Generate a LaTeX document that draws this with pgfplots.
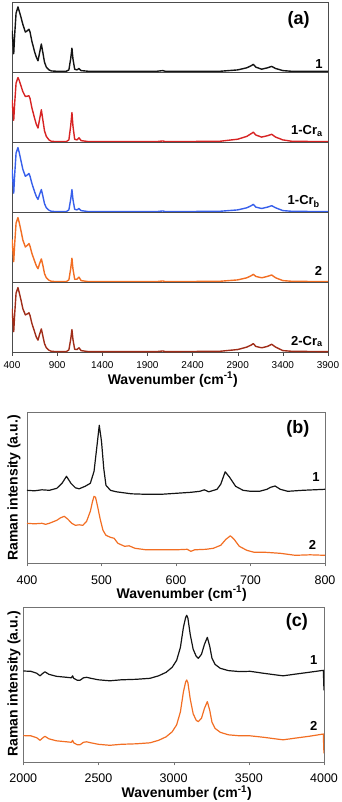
\documentclass[border=0pt]{standalone}
\usepackage{fontspec}
\setmainfont{Liberation Sans}
\usepackage{pgfplots}
\pgfplotsset{compat=1.18}
\definecolor{cblack}{RGB}{20,20,20}
\definecolor{cred}{RGB}{215,35,35}
\definecolor{cblue}{RGB}{55,95,235}
\definecolor{corange}{RGB}{242,110,35}
\definecolor{cbrown}{RGB}{160,45,25}
\tikzset{lab/.style={font=\fontsize{13}{14}\selectfont\bfseries, anchor=base east, inner sep=0pt},
  xl/.style={font=\fontsize{14}{15}\selectfont\bfseries, anchor=base, inner sep=0pt}}
\pgfplotsset{
  sub/.style={scale only axis, width=316pt, height=70pt, xmin=400, xmax=3900, ymin=0, ymax=1,
    ytick=\empty, xtick=\empty, axis line style={black!70}, line width=0.6pt,
    every axis plot/.append style={line width=1.4pt, line join=round}},
  big/.style={scale only axis, axis line style={black!55}, line width=0.6pt, ytick=\empty,
    tick pos=left, tick align=outside, major tick length=3pt, tick style={black!55},
    /pgf/number format/assume math mode=true, /pgf/number format/1000 sep={},
    ticklabel style={font=\fontsize{12.5}{13}\selectfont, inner sep=0pt},
    every axis plot/.append style={line width=1.2pt, line join=round}},
}
\begin{document}
\begin{tikzpicture}[x=1pt,y=1pt]
\useasboundingbox (0,0) rectangle (342,-802);
% ---------------- panel (a) ----------------
\begin{axis}[sub, at={(12pt,-2.7pt)}, anchor=north west]
\addplot[cblack] coordinates {(400,0.60)(410,0.45)(419,0.27)(430,0.55)(445,0.85)(466,0.94)(480,0.88)(500,0.79)(520,0.69)(548,0.58)(570,0.60)(588,0.62)(600,0.58)(620,0.45)(650,0.30)(670,0.22)(688,0.17)(705,0.28)(725,0.41)(740,0.30)(760,0.15)(780,0.08)(810,0.04)(836,0.025)(900,0.02)(1000,0.02)(1030,0.04)(1050,0.20)(1064,0.35)(1075,0.20)(1094,0.05)(1120,0.04)(1142,0.06)(1165,0.03)(1250,0.02)(2000,0.02)(2070,0.03)(2100,0.02)(2700,0.02)(2900,0.04)(3000,0.07)(3050,0.10)(3073,0.12)(3100,0.08)(3165,0.05)(3230,0.07)(3276,0.09)(3320,0.06)(3400,0.03)(3500,0.02)(3900,0.02)};
\node[lab] at (rel axis cs:0.984,0.055) {1};
\node[font=\fontsize{18}{19}\selectfont\bfseries] at (rel axis cs:0.907,0.757) {(a)};
\end{axis}
\begin{axis}[sub, at={(12pt,-72.7pt)}, anchor=north west]
\addplot[cred] coordinates {(400,0.61)(410,0.46)(419,0.32)(430,0.57)(445,0.85)(466,0.93)(480,0.89)(500,0.81)(520,0.73)(548,0.66)(570,0.665)(588,0.67)(600,0.63)(620,0.50)(650,0.35)(670,0.26)(688,0.21)(705,0.33)(725,0.47)(740,0.34)(760,0.17)(780,0.09)(810,0.04)(836,0.02)(900,0.015)(1000,0.015)(1030,0.04)(1050,0.24)(1064,0.43)(1075,0.24)(1094,0.05)(1120,0.04)(1142,0.07)(1165,0.03)(1250,0.015)(2000,0.015)(2070,0.025)(2100,0.015)(2700,0.02)(2900,0.05)(3000,0.09)(3050,0.13)(3073,0.15)(3100,0.11)(3165,0.08)(3230,0.10)(3276,0.12)(3320,0.08)(3400,0.04)(3500,0.02)(3900,0.015)};
\node[lab] at (rel axis cs:0.984,0.11) {1-Cr\textsubscript{a}};
\end{axis}
\begin{axis}[sub, at={(12pt,-142.7pt)}, anchor=north west]
\addplot[cblue] coordinates {(400,0.62)(410,0.45)(419,0.28)(430,0.55)(445,0.85)(466,0.93)(480,0.86)(500,0.74)(520,0.62)(548,0.52)(570,0.54)(588,0.56)(600,0.52)(620,0.42)(650,0.30)(670,0.23)(688,0.19)(705,0.26)(725,0.33)(740,0.25)(760,0.13)(780,0.07)(810,0.035)(836,0.02)(900,0.015)(1000,0.015)(1030,0.04)(1050,0.19)(1064,0.33)(1075,0.19)(1094,0.05)(1120,0.04)(1142,0.06)(1165,0.03)(1250,0.015)(2000,0.015)(2070,0.025)(2100,0.015)(2700,0.02)(2900,0.04)(3000,0.07)(3050,0.10)(3073,0.12)(3100,0.08)(3165,0.06)(3230,0.08)(3276,0.10)(3320,0.07)(3400,0.03)(3500,0.02)(3900,0.015)};
\node[lab] at (rel axis cs:0.975,0.11) {1-Cr\textsubscript{b}};
\end{axis}
\begin{axis}[sub, at={(12pt,-212.7pt)}, anchor=north west]
\addplot[corange] coordinates {(400,0.62)(410,0.46)(419,0.30)(430,0.56)(445,0.85)(466,0.93)(480,0.86)(500,0.74)(520,0.61)(548,0.51)(570,0.535)(588,0.56)(600,0.52)(620,0.42)(650,0.31)(670,0.24)(688,0.20)(705,0.27)(725,0.34)(740,0.26)(760,0.13)(780,0.07)(810,0.035)(836,0.02)(900,0.015)(1000,0.015)(1030,0.04)(1050,0.20)(1064,0.35)(1075,0.20)(1094,0.05)(1120,0.05)(1142,0.08)(1165,0.03)(1250,0.015)(2000,0.015)(2070,0.025)(2100,0.015)(2700,0.02)(2900,0.04)(3000,0.07)(3050,0.10)(3073,0.12)(3100,0.09)(3165,0.07)(3230,0.09)(3276,0.11)(3320,0.07)(3400,0.03)(3500,0.02)(3900,0.015)};
\node[lab] at (rel axis cs:0.982,0.11) {2};
\end{axis}
\begin{axis}[sub, at={(12pt,-282.7pt)}, anchor=north west,
  xtick={400,900,...,3900}, tick pos=left, tick align=outside, major tick length=3pt, tick style={black!70},
  /pgf/number format/assume math mode=true, /pgf/number format/1000 sep={},
  xticklabel style={font=\fontsize{10}{11}\selectfont, anchor=base, inner sep=0pt, yshift=-13.2pt}]
\addplot[cbrown] coordinates {(400,0.63)(410,0.46)(419,0.30)(430,0.56)(445,0.85)(466,0.93)(480,0.86)(500,0.75)(520,0.63)(548,0.54)(570,0.555)(588,0.57)(600,0.53)(620,0.42)(650,0.30)(670,0.22)(688,0.18)(705,0.26)(725,0.34)(740,0.25)(760,0.13)(780,0.07)(810,0.035)(836,0.02)(900,0.015)(1000,0.015)(1030,0.04)(1050,0.19)(1064,0.33)(1075,0.19)(1094,0.05)(1120,0.045)(1142,0.07)(1165,0.03)(1250,0.015)(2000,0.015)(2070,0.025)(2100,0.015)(2700,0.02)(2900,0.045)(3000,0.08)(3050,0.11)(3073,0.13)(3100,0.09)(3165,0.07)(3230,0.09)(3276,0.12)(3320,0.08)(3400,0.03)(3500,0.02)(3900,0.015)};
\node[lab] at (rel axis cs:0.984,0.11) {2-Cr\textsubscript{a}};
\end{axis}
% ---------------- panel (b) ----------------
\begin{axis}[big, at={(27pt,-563.3pt)}, anchor=south west, width=298pt, height=151pt,
  xmin=400, xmax=800, ymin=0, ymax=151, xtick={400,500,...,800},
  xticklabel style={anchor=base, yshift=-17.7pt}]
\addplot[cblack] coordinates {(400,73)(410,72.5)(420,73.5)(430,73)(440,75)(447,80)(453,87)(459,80)(465,75.5)(470,74.5)(478,77)(485,80)(490,92)(494,118)(497,138)(500,122)(503,95)(506,78)(512,73)(520,71.5)(540,69.5)(560,69)(580,69)(600,70)(620,71)(632,72)(638,73.5)(644,71.5)(655,74)(660,79)(666,91.5)(672,86)(680,77)(690,73)(700,72)(712,72)(722,74)(727,76)(733,77.3)(740,74)(750,72)(770,73)(785,73.5)(800,74)};
\addplot[corange] coordinates {(400,40)(410,39.5)(420,40)(425,39)(430,40)(440,43)(445,45.5)(450,47)(455,44)(460,40)(465,38)(470,38.5)(475,38)(480,42)(485,52)(488,62)(490,67)(492,66)(495,56)(498,45)(502,33)(506,28)(512,26)(517,25)(522,20)(531,17)(537,17.5)(545,15)(560,13.5)(580,13.5)(600,13.5)(615,14)(620,12)(625,13.5)(640,14)(650,15)(660,18)(667,24)(673,27.5)(678,24)(685,17)(695,13)(705,11)(720,11)(740,10)(760,8)(780,8.5)(800,8)};
\node[font=\fontsize{13}{14}\selectfont\bfseries, anchor=base] at (rel axis cs:0.97,0.543) {1};
\node[font=\fontsize{13}{14}\selectfont\bfseries, anchor=base] at (rel axis cs:0.958,0.091) {2};
\node[font=\fontsize{18}{19}\selectfont\bfseries] at (rel axis cs:0.909,0.89) {(b)};
\end{axis}
% ---------------- panel (c) ----------------
\begin{axis}[big, at={(23.3pt,-762.3pt)}, anchor=south west, width=300.7pt, height=155pt,
  xmin=2000, xmax=4000, ymin=0, ymax=155, xtick={2000,2500,...,4000},
  xticklabel style={anchor=base, yshift=-16.8pt}]
\addplot[cblack] coordinates {(2000,91.3)(2050,91)(2090,89)(2111,86.5)(2130,89)(2144,90.5)(2170,88)(2220,86)(2288,85)(2320,84.5)(2328,86.5)(2335,84)(2360,82)(2377,82)(2400,84.5)(2421,85)(2450,84)(2500,82.5)(2576,81.5)(2650,82.5)(2750,83)(2843,84)(2900,86.5)(2950,90)(2990,95)(3020,102)(3045,115)(3065,135)(3080,145)(3087,147)(3095,144)(3110,128)(3130,113)(3150,106)(3164,104)(3185,108)(3205,118)(3224,125)(3240,116)(3255,104)(3275,98)(3310,94)(3364,91.7)(3440,90.7)(3508,91)(3600,89)(3700,87)(3729,86.5)(3800,88)(3900,90)(3996,92)(3998,80)(4000,72)};
\addplot[corange] coordinates {(2000,26.7)(2050,26.5)(2090,24.5)(2111,22)(2130,24.5)(2144,26)(2170,23.5)(2220,21.5)(2288,20.5)(2320,20)(2328,22)(2335,19.5)(2360,17.5)(2377,17.5)(2400,20)(2421,20.5)(2450,19.5)(2500,18)(2576,17)(2650,18)(2750,18.5)(2843,19.5)(2900,22)(2950,25.5)(2990,30.5)(3020,37.5)(3045,50.5)(3065,70.5)(3080,80.5)(3087,82.3)(3095,79.5)(3110,63.5)(3130,48.5)(3150,42)(3164,40.7)(3185,44)(3205,54)(3224,60.7)(3240,52)(3255,40)(3275,34)(3310,30)(3364,27.5)(3440,26.5)(3508,26.5)(3600,25)(3700,23)(3729,22.5)(3800,24)(3900,26)(3996,28.3)(3998,15)(4000,9)};
\node[font=\fontsize{13}{14}\selectfont\bfseries, anchor=base] at (rel axis cs:0.966,0.634) {1};
\node[font=\fontsize{13}{14}\selectfont\bfseries, anchor=base] at (rel axis cs:0.966,0.208) {2};
\node[font=\fontsize{18}{19}\selectfont\bfseries] at (rel axis cs:0.91,0.907) {(c)};
\end{axis}
\node[xl] at (172.8pt,-384pt) {Wavenumber (cm\textsuperscript{-1})};
\node[xl] at (181.7pt,-598pt) {Wavenumber (cm\textsuperscript{-1})};
\node[xl] at (186.7pt,-797.5pt) {Wavenumber (cm\textsuperscript{-1})};
\node[rotate=90, font=\fontsize{14}{15}\selectfont\bfseries, inner sep=0pt] at (14pt,-488pt) {Raman intensity (a.u.)};
\node[rotate=90, font=\fontsize{14}{15}\selectfont\bfseries, inner sep=0pt] at (14pt,-684pt) {Raman intensity (a.u.)};
\end{tikzpicture}
\end{document}
